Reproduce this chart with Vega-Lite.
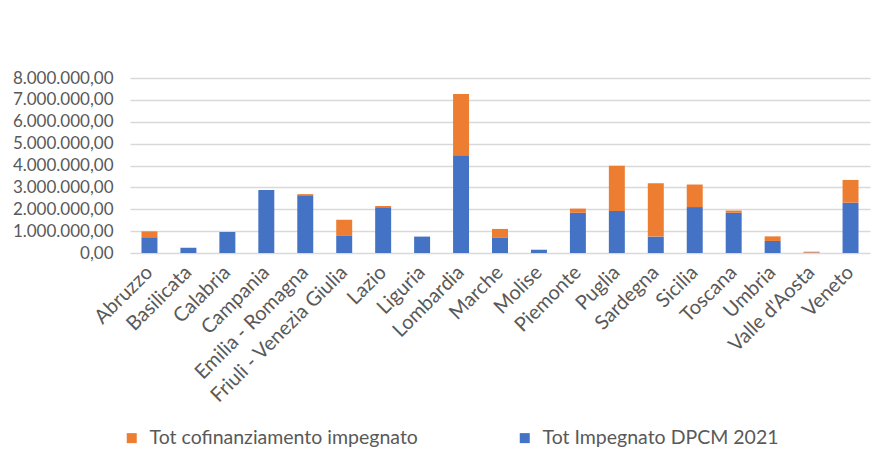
{
  "$schema": "https://vega.github.io/schema/vega-lite/v6.json",
  "autosize": "none",
  "width": 740,
  "height": 175,
  "padding": {"left": 130, "top": 78, "right": 6, "bottom": 216},
  "background": "white",
  "config": {"view": {"stroke": null}, "font": "Lato"},
  "data": {"values": [
    {"regione": "Abruzzo", "serie": "Tot Impegnato DPCM 2021", "valore": 720000},
    {"regione": "Abruzzo", "serie": "Tot cofinanziamento impegnato", "valore": 270000},
    {"regione": "Basilicata", "serie": "Tot Impegnato DPCM 2021", "valore": 240000},
    {"regione": "Basilicata", "serie": "Tot cofinanziamento impegnato", "valore": 0},
    {"regione": "Calabria", "serie": "Tot Impegnato DPCM 2021", "valore": 960000},
    {"regione": "Calabria", "serie": "Tot cofinanziamento impegnato", "valore": 0},
    {"regione": "Campania", "serie": "Tot Impegnato DPCM 2021", "valore": 2880000},
    {"regione": "Campania", "serie": "Tot cofinanziamento impegnato", "valore": 0},
    {"regione": "Emilia - Romagna", "serie": "Tot Impegnato DPCM 2021", "valore": 2640000},
    {"regione": "Emilia - Romagna", "serie": "Tot cofinanziamento impegnato", "valore": 50000},
    {"regione": "Friuli - Venezia Giulia", "serie": "Tot Impegnato DPCM 2021", "valore": 780000},
    {"regione": "Friuli - Venezia Giulia", "serie": "Tot cofinanziamento impegnato", "valore": 740000},
    {"regione": "Lazio", "serie": "Tot Impegnato DPCM 2021", "valore": 2090000},
    {"regione": "Lazio", "serie": "Tot cofinanziamento impegnato", "valore": 60000},
    {"regione": "Liguria", "serie": "Tot Impegnato DPCM 2021", "valore": 750000},
    {"regione": "Liguria", "serie": "Tot cofinanziamento impegnato", "valore": 0},
    {"regione": "Lombardia", "serie": "Tot Impegnato DPCM 2021", "valore": 4470000},
    {"regione": "Lombardia", "serie": "Tot cofinanziamento impegnato", "valore": 2800000},
    {"regione": "Marche", "serie": "Tot Impegnato DPCM 2021", "valore": 690000},
    {"regione": "Marche", "serie": "Tot cofinanziamento impegnato", "valore": 410000},
    {"regione": "Molise", "serie": "Tot Impegnato DPCM 2021", "valore": 150000},
    {"regione": "Molise", "serie": "Tot cofinanziamento impegnato", "valore": 0},
    {"regione": "Piemonte", "serie": "Tot Impegnato DPCM 2021", "valore": 1840000},
    {"regione": "Piemonte", "serie": "Tot cofinanziamento impegnato", "valore": 190000},
    {"regione": "Puglia", "serie": "Tot Impegnato DPCM 2021", "valore": 1920000},
    {"regione": "Puglia", "serie": "Tot cofinanziamento impegnato", "valore": 2070000},
    {"regione": "Sardegna", "serie": "Tot Impegnato DPCM 2021", "valore": 750000},
    {"regione": "Sardegna", "serie": "Tot cofinanziamento impegnato", "valore": 2440000},
    {"regione": "Sicilia", "serie": "Tot Impegnato DPCM 2021", "valore": 2100000},
    {"regione": "Sicilia", "serie": "Tot cofinanziamento impegnato", "valore": 1030000},
    {"regione": "Toscana", "serie": "Tot Impegnato DPCM 2021", "valore": 1840000},
    {"regione": "Toscana", "serie": "Tot cofinanziamento impegnato", "valore": 100000},
    {"regione": "Umbria", "serie": "Tot Impegnato DPCM 2021", "valore": 550000},
    {"regione": "Umbria", "serie": "Tot cofinanziamento impegnato", "valore": 210000},
    {"regione": "Valle d'Aosta", "serie": "Tot Impegnato DPCM 2021", "valore": 20000},
    {"regione": "Valle d'Aosta", "serie": "Tot cofinanziamento impegnato", "valore": 40000},
    {"regione": "Veneto", "serie": "Tot Impegnato DPCM 2021", "valore": 2300000},
    {"regione": "Veneto", "serie": "Tot cofinanziamento impegnato", "valore": 1040000}
  ]},
  "mark": {"type": "bar"},
  "encoding": {
    "x": {
      "field": "regione", "type": "nominal", "sort": null,
      "scale": {"paddingInner": 0.59, "paddingOuter": 0.295},
      "axis": {"title": null, "labelAngle": -45, "labelAlign": "right", "labelBaseline": "middle",
               "ticks": false, "domain": false, "labelPadding": 16, "labelFontSize": 20,
               "labelColor": "#595959", "labelFont": "Lato", "labelLimit": 400}
    },
    "y": {
      "field": "valore", "type": "quantitative", "stack": "zero",
      "scale": {"domain": [0, 8000000], "nice": false},
      "axis": {"title": null, "values": [0, 1000000, 2000000, 3000000, 4000000, 5000000, 6000000, 7000000, 8000000],
               "labelExpr": "datum.value == 0 ? '0,00' : format(datum.value / 1000000, 'd') + '.000.000,00'",
               "domain": false, "ticks": false, "labelPadding": 17, "labelFontSize": 17,
               "labelColor": "#595959", "labelFont": "Lato",
               "gridColor": "#d9d9d9", "gridWidth": 1.5}
    },
    "color": {
      "field": "serie", "type": "nominal",
      "scale": {"domain": ["Tot cofinanziamento impegnato", "Tot Impegnato DPCM 2021"], "range": ["#ED7D31", "#4472C4"]},
      "legend": {"title": null, "orient": "none", "legendX": -8, "legendY": 350, "direction": "horizontal",
                 "symbolType": "square", "symbolSize": 100, "symbolStrokeWidth": 0,
                 "labelFontSize": 19.5, "labelColor": "#595959", "labelFont": "Lato", "labelOffset": 8,
                 "columnPadding": 97, "labelLimit": 400}
    },
    "order": {"field": "serie", "sort": "ascending"}
  }
}
